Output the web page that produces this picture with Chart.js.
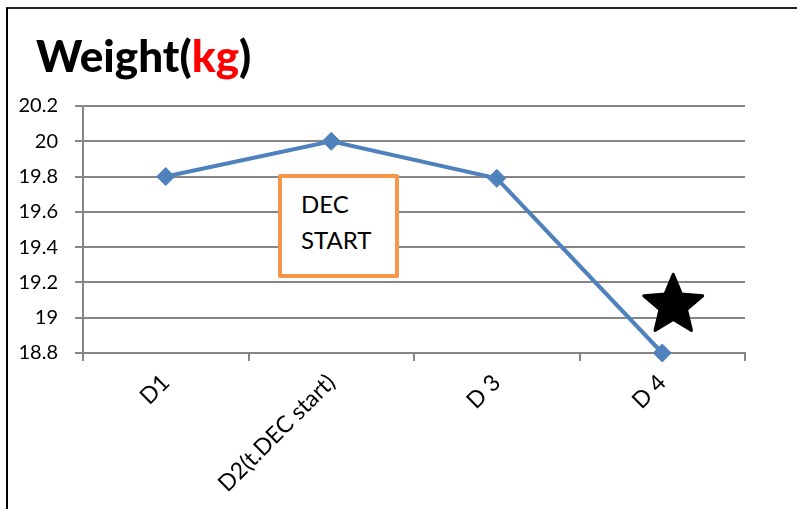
<!DOCTYPE html>
<html lang="en">
  <head>
    <meta charset="UTF-8" />
    <title>Weight(kg)</title>
    <script src="https://cdn.jsdelivr.net/npm/chart.js"></script>
    <style>
      html, body { margin: 0; padding: 0; background: #fff; overflow: hidden; }
      #wrap { position: relative; width: 797px; height: 509px; }
      #frame {
        position: absolute; left: 6px; top: 7px; width: 900px; height: 600px;
        border-left: 2px solid #000; border-top: 2px solid #222;
      }
      #title {
        position: absolute; left: 36px; top: 33px;
        font: 900 44px Lato, sans-serif; line-height: 44px; color: #000;
        white-space: nowrap;
      }
      #title .unit { color: #ff0000; }
      #note {
        position: absolute; left: 278px; top: 174px;
        border: 4px solid #f79646; border-radius: 2px; background: #fff;
        font: 24px Lato, sans-serif; line-height: 36px; color: #000;
        padding: 8px 0 0 19px; box-sizing: border-box; width: 121px; height: 104px;
      }
      canvas { position: absolute; left: 0; top: 0; }
    </style>
  </head>
  <body>
    <div id="wrap">
      <div id="frame"></div>
      <canvas id="weightChart" width="797" height="509"></canvas>
      <div id="title">Weight(<span class="unit">kg</span>)</div>
      <div id="note">DEC<br />START</div>
    </div>

    <script>
      // data
      const days = ["D1", "D2(t.DEC start)", "D 3", "D 4"];
      const weights = [19.8, 20, 19.79, 18.8];
      const yTicks = [18.8, 19, 19.2, 19.4, 19.6, 19.8, 20, 20.2];

      // star marker next to the last point
      const starValue = 19.07;
      const starIndex = 3;

      const blue = "#4f81bd";
      const gray = "#868686";

      // filled black star, placed through the scales
      const starPlugin = {
        id: "star",
        afterDatasetsDraw(chart) {
          const ctx = chart.ctx;
          const cx = chart.scales.x.getPixelForValue(starIndex) + 11;
          const cy = chart.scales.y.getPixelForValue(starValue);
          const outer = 31, inner = 14;
          ctx.save();
          ctx.beginPath();
          for (let i = 0; i < 10; i++) {
            const r = i % 2 === 0 ? outer : inner;
            const a = -Math.PI / 2 + (i * Math.PI) / 5;
            const px = cx + r * Math.cos(a);
            const py = cy + r * Math.sin(a);
            if (i === 0) ctx.moveTo(px, py);
            else ctx.lineTo(px, py);
          }
          ctx.closePath();
          ctx.fillStyle = "#000";
          ctx.strokeStyle = "#000";
          ctx.lineJoin = "round";
          ctx.lineWidth = 3;
          ctx.fill();
          ctx.stroke();
          ctx.restore();
        },
      };

      const ctx = document.getElementById("weightChart").getContext("2d");
      new Chart(ctx, {
        type: "line",
        data: {
          labels: days,
          datasets: [
            {
              label: "Weight",
              data: weights,
              borderColor: blue,
              backgroundColor: blue,
              borderWidth: 4,
              pointStyle: "rectRot",
              pointRadius: 9,
              pointBorderWidth: 1,
              tension: 0,
              clip: false,
            },
          ],
        },
        options: {
          responsive: false,
          animation: false,
          layout: { padding: { top: 106, right: 52, bottom: 0, left: 0 } },
          plugins: {
            legend: { display: false },
            title: { display: false },
            tooltip: { enabled: false },
          },
          scales: {
            x: {
              offset: true,
              afterFit: (scale) => { scale.height = 156; },
              grid: {
                offset: true,
                drawOnChartArea: false,
                drawTicks: true,
                tickLength: 8,
                color: gray,
                lineWidth: 2,
              },
              border: { color: gray, width: 2 },
              ticks: {
                minRotation: 45,
                maxRotation: 45,
                padding: 8,
                color: "#000",
                font: { family: "Lato", size: 23 },
              },
            },
            y: {
              min: 18.8,
              max: 20.2,
              afterFit: (scale) => { scale.width = 83; },
              afterBuildTicks: (scale) => {
                scale.ticks = yTicks.map((v) => ({ value: v }));
              },
              grid: {
                color: gray,
                lineWidth: 2,
                tickLength: 8,
              },
              border: { color: gray, width: 2 },
              ticks: {
                padding: 17,
                color: "#000",
                font: { family: "Lato", size: 20 },
                callback: (value) => String(+value.toFixed(1)),
              },
            },
          },
        },
        plugins: [starPlugin],
      });
    </script>
  </body>
</html>
